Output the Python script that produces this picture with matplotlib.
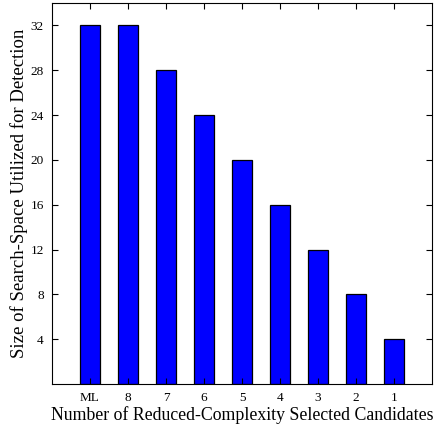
import matplotlib.pyplot as plt
import numpy as np

plt.rcParams['font.family'] = ['Liberation Serif', 'DejaVu Serif']

# search-space size for each number of selected candidates
labels = ['ML', '8', '7', '6', '5', '4', '3', '2', '1']
sizes = [32, 32, 28, 24, 20, 16, 12, 8, 4]

fig = plt.figure(figsize=(4.36, 4.30), dpi=100)
ax = fig.add_axes([52 / 436, 46 / 430, 380 / 436, 381 / 430])

x = np.arange(1, len(labels) + 1)
ax.bar(x, sizes, width=0.52, color='#0000ff', edgecolor='black', linewidth=0.9)

ax.set_xlim(0, 10)
ax.set_ylim(0, 34)
ax.set_xticks(x)
ax.set_xticklabels(labels)
ax.set_yticks(np.arange(4, 33, 4))
ax.tick_params(direction='in', top=True, right=True, labelsize=9.5, length=4, width=0.8)
ax.tick_params(axis='x', pad=6)
ax.tick_params(axis='y', pad=6)

ax.set_xlabel('Number of Reduced-Complexity Selected Candidates', fontsize=12.8, labelpad=1)
ax.set_ylabel('Size of Search-Space Utilized for Detection', fontsize=13.5, labelpad=2)

fig.savefig('out.png', dpi=100)
